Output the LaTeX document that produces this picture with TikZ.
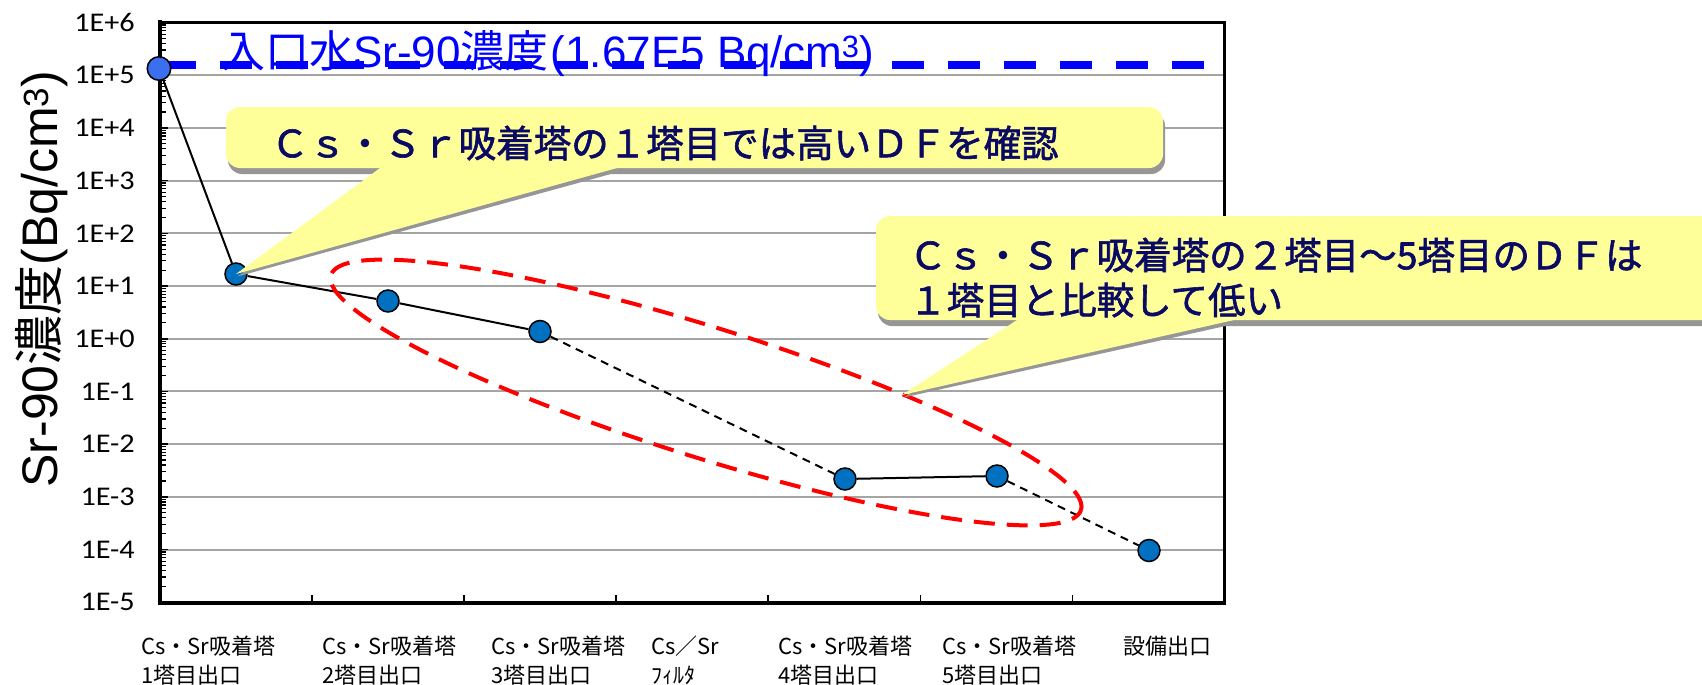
\documentclass[tikz,border=0pt]{standalone}
\usepackage{fontspec}
\setmainfont{Liberation Sans}
\newfontfamily\cjk{Noto Sans CJK JP}
\newfontfamily\cjkheavy[FakeBold=1.6]{Noto Sans CJK JP}
\newfontfamily\calib[FakeStretch=1.12]{Carlito}
\definecolor{ptblue}{RGB}{0,112,192}
\definecolor{ptblueA}{RGB}{60,110,240}
\definecolor{gridgray}{RGB}{165,165,165}
\definecolor{calloutfill}{RGB}{255,255,153}
\definecolor{navytext}{RGB}{10,10,100}
\definecolor{shadowgray}{RGB}{150,150,150}
\begin{document}
\begin{tikzpicture}[x=1pt,y=-1pt,
  gridline/.style={draw=gridgray,line width=2pt},
  axisline/.style={draw=black,line width=4pt},
  frameline/.style={draw=black,line width=2.5pt},
  tickmark/.style={draw=black,line width=1.6pt},
  minortick/.style={draw=black,line width=1.2pt},
  ticklab/.style={font=\calib\fontsize{27}{31}\selectfont,inner sep=0pt,anchor=east},
  xlab/.style={font=\cjk\fontsize{22}{29}\selectfont,inner sep=0pt,anchor=north west,align=left},
  datapt/.style={circle,draw=black,line width=1.5pt,fill=ptblue,minimum size=22pt,inner sep=0pt},
  dataptA/.style={datapt,fill=ptblueA,minimum size=23.5pt},
  solidconn/.style={draw=black,line width=2pt},
  dashconn/.style={draw=black,line width=2pt,dash pattern=on 8pt off 6pt},
  inletline/.style={draw=blue,line width=8pt,dash pattern=on 32pt off 24pt},
  redring/.style={draw=red,line width=4pt,dash pattern=on 21pt off 12pt},
  bubble/.style={fill=calloutfill},
  bubbleshadow/.style={fill=shadowgray},
  bubbletext/.style={font=\cjkheavy\fontsize{37.5}{45}\selectfont,text=navytext,inner sep=0pt,anchor=west,align=left}
]
\useasboundingbox (0,0) rectangle (1702,685);
\clip (0,0) rectangle (1702,685);

% grid lines
\foreach \k in {5,4,...,-4} {
  \draw[gridline] (160,{22.5+(6-\k)*52.7}) -- (1224.5,{22.5+(6-\k)*52.7});
}
% minor and major ticks on the value axis
\foreach \k in {6,5,...,-4} {
  \draw[tickmark] (160,{22.5+(6-\k)*52.7}) -- ++(8,0);
  \foreach \m in {2,...,9} {
    \draw[minortick] (160,{22.5+(6-\k)*52.7+52.7-log10(\m)*52.7}) -- ++(6,0);
  }
}
% category ticks
\foreach \i in {1,...,6} {
  \draw[tickmark] ({160+\i*152.07},603) -- ++(0,-8);
}
% frame
\draw[frameline] (160,22.5) -- (1224.5,22.5) -- (1224.5,603);
\draw[axisline] (160,20.5) -- (160,604.75);
\draw[draw=black,line width=3.5pt] (158,603) -- (1225.75,603);

% tick labels
\foreach \k/\lab [count=\i] in {6/1E+6,5/1E+5,4/1E+4,3/1E+3,2/1E+2,1/1E+1,0/1E+0,-1/1E-1,-2/1E-2,-3/1E-3,-4/1E-4,-5/1E-5} {
  \node[ticklab] (ylab\i) at (135,{22.5+(6-\k)*52.7}) {\lab};
}

% axis title
\node[rotate=90,font=\fontsize{50}{56}\selectfont,inner sep=0pt] (ytitle) at (42,279)
  {Sr-90{\cjk 濃度}(Bq/cm\textsuperscript{3})};

% inlet concentration line and label
\draw[inletline] (164,65) -- (1204,65);
\node[font=\fontsize{44}{50}\selectfont,text=blue,anchor=base west,inner sep=0pt] (inlet) at (221,67)
  {{\cjk 入口水}Sr-90{\cjk 濃度}\kern2pt(1.67E5 Bq/cm\textsuperscript{3})};

% category labels
\node[xlab] (xl1) at (141,636) {Cs・Sr吸着塔\\1塔目出口};
\node[xlab] (xl2) at (322,636) {Cs・Sr吸着塔\\2塔目出口};
\node[xlab] (xl3) at (491,636) {Cs・Sr吸着塔\\3塔目出口};
\node[xlab] (xl4) at (651,636) {Cs／Sr\\ﾌｨﾙﾀ};
\node[xlab] (xl5) at (778,636) {Cs・Sr吸着塔\\4塔目出口};
\node[xlab] (xl6) at (942,636) {Cs・Sr吸着塔\\5塔目出口};
\node[xlab] (xl7) at (1123,636) {設備出口};

% data points
\node[dataptA] (p0) at (159,68.5) {};
\node[datapt] (p1) at (236,274) {};
\node[datapt] (p2) at (388,301) {};
\node[datapt] (p3) at (540,331.5) {};
\node[datapt] (p5) at (845,479) {};
\node[datapt] (p6) at (997,476) {};
\node[datapt] (p7) at (1149,550.5) {};

\draw[solidconn] (p0) -- (p1);
\draw[solidconn] (p1) -- (p2);
\draw[solidconn] (p2) -- (p3);
\draw[dashconn] (p3) -- (p5);
\draw[solidconn] (p5) -- (p6);
\draw[dashconn] (p6) -- (p7);

% red dashed ellipse
\draw[redring,rotate around={-17.4:(706,392.5)}] (706,392.5) ellipse [x radius=393pt,y radius=65pt];

% callout 1
\fill[bubbleshadow,rounded corners=14pt] (228,112) rectangle (1165,174);
\fill[bubbleshadow] (406.5,154) -- ([shift={(1.5,2.5)}]p1.center) -- (683.7,154) -- cycle;
\fill[bubble,rounded corners=14pt] (226,107) rectangle (1163,168);
\fill[bubble] (404.5,150) -- (p1.center) -- (681.7,150) -- cycle;
\node[bubbletext] (t1) at (271,143) {Ｃｓ・Ｓｒ吸着塔の１塔目では高いＤＦを確認};

% callout 2
\fill[bubbleshadow,rounded corners=14pt] (878,221) rectangle (1740,326);
\fill[bubbleshadow] (1049.7,304) -- (903.5,397.5) -- (1324.5,304) -- cycle;
\fill[bubble,rounded corners=14pt] (876,216) rectangle (1740,320);
\coordinate (tip2) at (902,395);
\fill[bubble] (1047.7,300) -- (tip2) -- (1322.5,300) -- cycle;
\node[bubbletext] (t2) at (909,277.5) {Ｃｓ・Ｓｒ吸着塔の２塔目～5塔目のＤＦは\\１塔目と比較して低い};
\end{tikzpicture}
\end{document}
